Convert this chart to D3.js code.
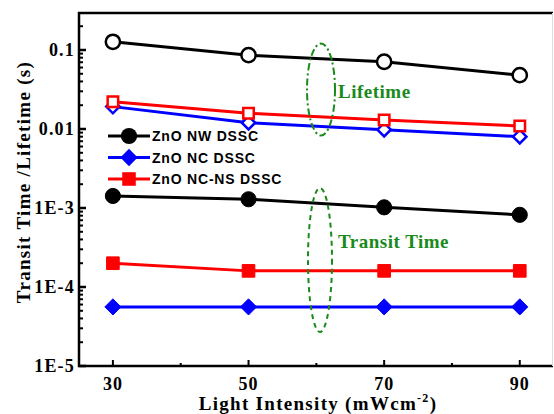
<!DOCTYPE html>
<html>
<head>
<meta charset="utf-8">
<script src="https://cdn.jsdelivr.net/npm/d3@7"></script>
<style>
  body { margin: 0; background: #fff; }
  svg { display: block; }
</style>
</head>
<body>
<div id="chart"></div>
<script>
const intensities = [30, 50, 70, 90];
const xTicks = [30, 50, 70, 90];
const yTicks = [1e-5, 1e-4, 1e-3, 0.01, 0.1];
const yTickLabels = ['1E-5', '1E-4', '1E-3', '0.01', '0.1'];

// lifetime (open markers)
const nwLifetime = [0.127, 0.086, 0.071, 0.048];
const ncLifetime = [0.0192, 0.012, 0.0098, 0.008];
const ncnsLifetime = [0.0222, 0.0158, 0.013, 0.0109];
// transit time (filled markers)
const nwTransit = [1.42e-3, 1.29e-3, 1.02e-3, 8.2e-4];
const ncTransit = [5.6e-5, 5.6e-5, 5.6e-5, 5.6e-5];
const ncnsTransit = [2.0e-4, 1.6e-4, 1.6e-4, 1.6e-4];

const width = 554, height = 414;
const margin = { top: 13, right: 1, bottom: 48, left: 79 };

const svg = d3.select('#chart').append('svg')
    .attr('width', width)
    .attr('height', height);

const x = d3.scaleLinear().domain([25, 94.9]).range([margin.left, width - margin.right]);
const y = d3.scaleLog().domain([1e-5, 0.294]).range([height - margin.bottom, margin.top]);

const serif = 'Liberation Serif, Times New Roman, serif';
const sans = 'Liberation Sans, Arial, sans-serif';

// frame
svg.append('path')
    .attr('d', `M${x.range()[1]},${y.range()[1]} H${margin.left} V${y.range()[0]} H${x.range()[1]}`)
    .attr('fill', 'none')
    .attr('stroke', '#000')
    .attr('stroke-width', 2.5);
svg.append('line')
    .attr('x1', width - 1.5).attr('x2', width - 1.5)
    .attr('y1', y.range()[1]).attr('y2', y.range()[0])
    .attr('stroke', '#ddd').attr('stroke-width', 1);

// x ticks (inward)
const xAxis = svg.append('g');
xAxis.selectAll('line.major')
    .data(xTicks)
    .join('line')
    .attr('x1', d => x(d)).attr('x2', d => x(d))
    .attr('y1', y.range()[0]).attr('y2', y.range()[0] - 6)
    .attr('stroke', '#000').attr('stroke-width', 2);
xAxis.selectAll('line.minor')
    .data([40, 60, 80])
    .join('line')
    .attr('x1', d => x(d)).attr('x2', d => x(d))
    .attr('y1', y.range()[0]).attr('y2', y.range()[0] - 3)
    .attr('stroke', '#000').attr('stroke-width', 2);
xAxis.selectAll('text')
    .data(xTicks)
    .join('text')
    .attr('x', d => x(d))
    .attr('y', y.range()[0] + 24)
    .attr('text-anchor', 'middle')
    .attr('font-family', serif)
    .attr('font-weight', 'bold')
    .attr('font-size', 18)
    .attr('letter-spacing', 1)
    .text(d => d);

// y ticks (inward), majors plus log minors
const minorTicks = [];
yTicks.slice(0, -1).forEach(t => {
  for (let k = 2; k <= 9; k++) minorTicks.push(t * k);
});
minorTicks.push(0.2);
const yAxis = svg.append('g');
yAxis.selectAll('line.minor')
    .data(minorTicks.filter(v => v < y.domain()[1]))
    .join('line')
    .attr('x1', margin.left).attr('x2', margin.left + 4)
    .attr('y1', d => y(d)).attr('y2', d => y(d))
    .attr('stroke', '#000').attr('stroke-width', 2);
yAxis.selectAll('line.major')
    .data(yTicks)
    .join('line')
    .attr('x1', margin.left).attr('x2', margin.left + 7)
    .attr('y1', d => y(d)).attr('y2', d => y(d))
    .attr('stroke', '#000').attr('stroke-width', 2.5);
yAxis.selectAll('text')
    .data(yTicks)
    .join('text')
    .attr('x', margin.left - 4)
    .attr('y', d => y(d) + 6)
    .attr('text-anchor', 'end')
    .attr('font-family', serif)
    .attr('font-weight', 'bold')
    .attr('font-size', 18)
    .attr('letter-spacing', 1.2)
    .text((d, i) => yTickLabels[i]);

// axis titles
svg.append('text')
    .attr('x', 318).attr('y', 410)
    .attr('text-anchor', 'middle')
    .attr('font-family', serif)
    .attr('font-weight', 'bold')
    .attr('font-size', 19)
    .attr('letter-spacing', 1.3)
    .html('Light Intensity (mWcm<tspan dy="-8" font-size="12">-2</tspan><tspan dy="8">)</tspan>');
svg.append('text')
    .attr('transform', 'translate(30,182) rotate(-90)')
    .attr('text-anchor', 'middle')
    .attr('font-family', serif)
    .attr('font-weight', 'bold')
    .attr('font-size', 19)
    .attr('letter-spacing', 1.3)
    .text('Transit Time /Lifetime (s)');

// wide diamond: a square turned 45 degrees
const diamond = {
  draw(ctx, size) {
    const r = Math.sqrt(size / 2);
    ctx.moveTo(0, -r); ctx.lineTo(r, 0); ctx.lineTo(0, r); ctx.lineTo(-r, 0); ctx.closePath();
  }
};

// series
const series = [
  { name: 'ZnO NW DSSC', color: '#000', shape: d3.symbolCircle, values: nwLifetime, filled: false, size: 160 },
  { name: 'ZnO NC DSSC', color: '#0000ff', shape: diamond, values: ncLifetime, filled: false, size: 90 },
  { name: 'ZnO NC-NS DSSC', color: '#ff0000', shape: d3.symbolSquare, values: ncnsLifetime, filled: false, size: 110 },
  { name: 'ZnO NW DSSC', color: '#000', shape: d3.symbolCircle, values: nwTransit, filled: true, size: 180 },
  { name: 'ZnO NC DSSC', color: '#0000ff', shape: diamond, values: ncTransit, filled: true, size: 130 },
  { name: 'ZnO NC-NS DSSC', color: '#ff0000', shape: d3.symbolSquare, values: ncnsTransit, filled: true, size: 160 }
];

const line = d3.line().x((d, i) => x(intensities[i])).y(d => y(d));

series.forEach(s => {
  svg.append('path')
      .datum(s.values)
      .attr('d', line)
      .attr('fill', 'none')
      .attr('stroke', s.color)
      .attr('stroke-width', 3);
  svg.selectAll(null)
      .data(s.values)
      .join('path')
      .attr('transform', (d, i) => `translate(${x(intensities[i])},${y(d)})`)
      .attr('d', d3.symbol().type(s.shape).size(s.size))
      .attr('fill', s.filled ? s.color : '#fff')
      .attr('stroke', s.color)
      .attr('stroke-width', s.filled ? 1 : 2.5);
});

// legend
const legend = svg.append('g');
series.slice(3).forEach((s, i) => {
  const ly = 136 + i * 21.5;
  legend.append('line')
      .attr('x1', 108).attr('x2', 150)
      .attr('y1', ly).attr('y2', ly)
      .attr('stroke', s.color).attr('stroke-width', 3);
  legend.append('path')
      .attr('transform', `translate(129,${ly})`)
      .attr('d', d3.symbol().type(s.shape).size(s.size * 1.15))
      .attr('fill', s.color);
  legend.append('text')
      .attr('x', 152).attr('y', ly + 5)
      .attr('font-family', sans)
      .attr('font-weight', 'bold')
      .attr('font-size', 14)
      .attr('letter-spacing', 0.8)
      .text(s.name);
});

// annotation ellipses
const green = '#1a8a1a';
svg.append('ellipse')
    .attr('cx', 321).attr('cy', y(0.0316))
    .attr('rx', 14).attr('ry', 46)
    .attr('fill', 'none').attr('stroke', green).attr('stroke-width', 2)
    .attr('stroke-dasharray', '7,3,2,3');
svg.append('text')
    .attr('x', 338).attr('y', 98)
    .attr('fill', green)
    .attr('font-family', serif)
    .attr('font-weight', 'bold')
    .attr('font-size', 19)
    .attr('letter-spacing', 0.5)
    .text('Lifetime');
svg.append('ellipse')
    .attr('cx', 320).attr('cy', 260)
    .attr('rx', 12).attr('ry', 72)
    .attr('fill', 'none').attr('stroke', green).attr('stroke-width', 2)
    .attr('stroke-dasharray', '5,4');
svg.append('text')
    .attr('x', 338).attr('y', 248)
    .attr('fill', green)
    .attr('font-family', serif)
    .attr('font-weight', 'bold')
    .attr('font-size', 19)
    .attr('letter-spacing', 0.5)
    .text('Transit Time');
</script>
</body>
</html>
